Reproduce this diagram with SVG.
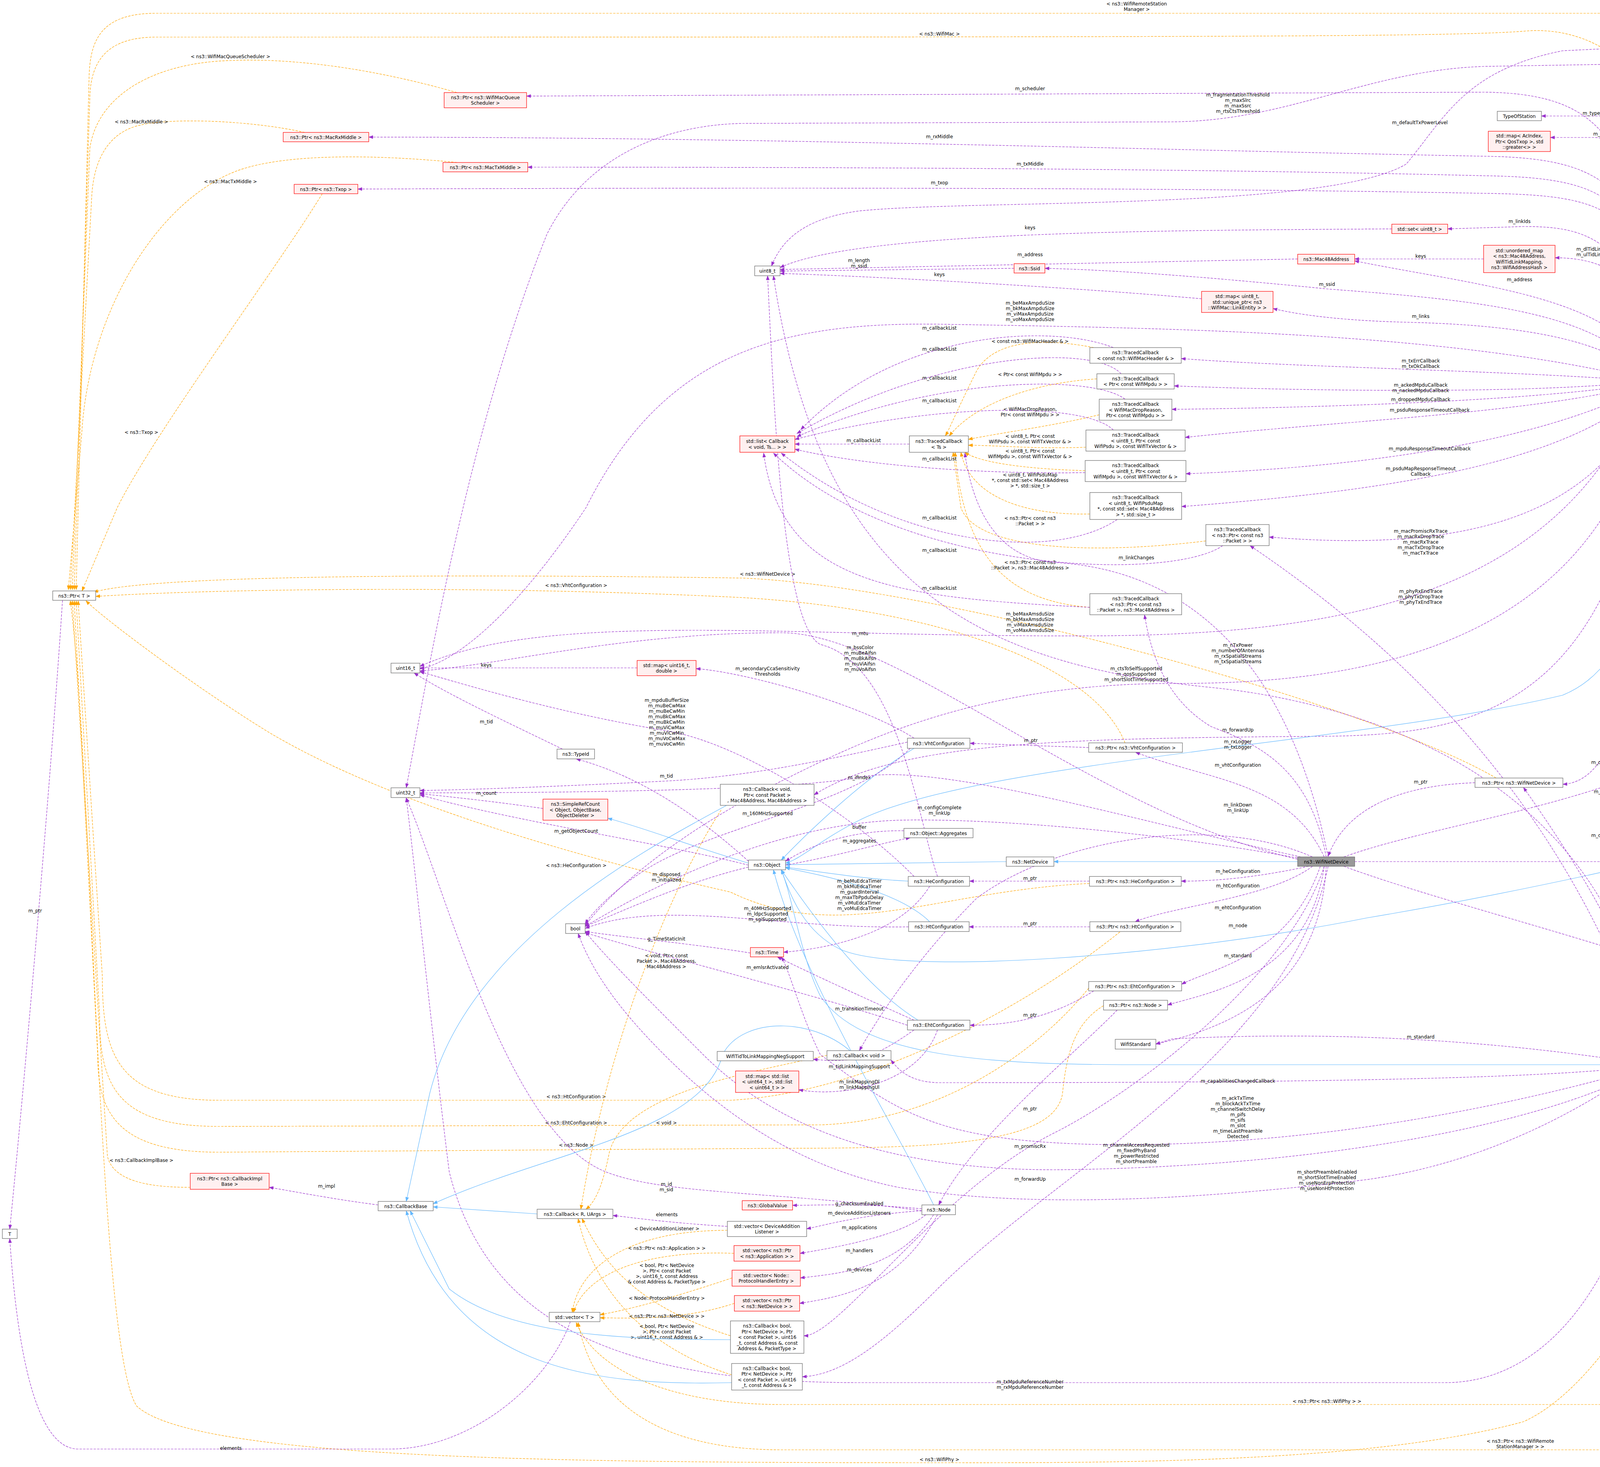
<svg xmlns="http://www.w3.org/2000/svg" width="5608" height="3756" viewBox="0 0 5608 3756">
<defs>
<marker id="ap" markerWidth="12" markerHeight="10" refX="11" refY="4.5" orient="auto" markerUnits="userSpaceOnUse"><path d="M0,0 L12,4.5 L0,9 z" fill="#9A32CD"/></marker>
<marker id="ao" markerWidth="12" markerHeight="10" refX="11" refY="4.5" orient="auto" markerUnits="userSpaceOnUse"><path d="M0,0 L12,4.5 L0,9 z" fill="#FFA500"/></marker>
<marker id="ab" markerWidth="12" markerHeight="10" refX="11" refY="4.5" orient="auto" markerUnits="userSpaceOnUse"><path d="M0,0 L12,4.5 L0,9 z" fill="#63B8FF"/></marker>
</defs>
<style>
text{font-family:"DejaVu Sans","Liberation Sans",sans-serif;font-size:12px;text-anchor:middle;fill:#000}
.n rect{fill:#fff;stroke:#666;stroke-width:1.2}
.r rect{fill:#FFF0F0;stroke:#F00;stroke-width:1.2}
.g rect{fill:#999;stroke:#666;stroke-width:1.2}
.p{fill:none;stroke:#9A32CD;stroke-width:1.2;stroke-dasharray:6,3;marker-end:url(#ap)}
.o{fill:none;stroke:#FFA500;stroke-width:1.2;stroke-dasharray:6,3;marker-end:url(#ao)}
.b{fill:none;stroke:#63B8FF;stroke-width:1.2;marker-end:url(#ab)}
</style>
<rect width="5608" height="3756" fill="#fff"/>
<g id="edges">
<!-- orange to Ptr<T> -->
<path class="o" d="M5116,2037 C5060,1500 4960,200 4900,80 C4870,40 4840,34 4800,34 L400,34 C260,34 230,100 228,200 L195,1510"/>
<text x="2910" y="14">&lt; ns3::WifiRemoteStation</text><text x="2910" y="28">Manager &gt;</text>
<path class="o" d="M4481,1811 C4447,1439 4352,576 4244,276 C4150,100 4000,70 3900,80 C3700,95 3000,95 400,95 C280,95 232,150 230,250 L190,1510"/>
<text x="2405" y="91">&lt; ns3::WifiMac &gt;</text>
<path class="o" d="M1170,237 C900,160 700,150 590,155 C400,160 250,240 230,380 L185,1510"/>
<text x="590" y="149">&lt; ns3::WifiMacQueueScheduler &gt;</text>
<path class="o" d="M780,339 C650,310 450,300 360,320 C270,340 240,420 235,500 L180,1510"/>
<text x="362" y="316">&lt; ns3::MacRxMiddle &gt;</text>
<path class="o" d="M1170,416 C900,390 700,400 600,440 C400,520 230,800 210,1100 L175,1510"/>
<text x="590" y="469">&lt; ns3::MacTxMiddle &gt;</text>
<path class="o" d="M825,496 C700,700 400,1100 300,1300 L210,1513"/>
<text x="362" y="1111">&lt; ns3::Txop &gt;</text>
<path class="o" d="M2880,1902 C2800,1700 2400,1560 1900,1530 C1300,1500 600,1505 245,1527"/>
<text x="1475" y="1503">&lt; ns3::VhtConfiguration &gt;</text>
<path class="o" d="M3830,1992 C3500,1800 2400,1500 1900,1480 C1200,1470 400,1470 240,1516"/>
<text x="1965" y="1474">&lt; ns3::WifiNetDevice &gt;</text>
<path class="o" d="M2789,2262 C2400,2280 2150,2420 1870,2284 C1500,2200 1000,2060 690,1876 C500,1760 260,1580 220,1538"/>
<text x="1475" y="2220">&lt; ns3::HeConfiguration &gt;</text>
<path class="o" d="M2867,2386 C2600,2600 2200,2800 1870,2817 L560,2817 C300,2817 262,2700 262,2500 L200,1538"/>
<text x="1475" y="2812">&lt; ns3::HtConfiguration &gt;</text>
<path class="o" d="M2787,2530 C2650,2700 2400,2870 2100,2880 L560,2884 C300,2884 255,2780 255,2600 L195,1538"/>
<text x="1475" y="2879">&lt; ns3::EhtConfiguration &gt;</text>
<path class="o" d="M2825,2575 C2750,2620 2730,2700 2720,2800 C2700,2930 2400,2940 2000,2940 L560,2950 C300,2950 250,2850 250,2700 L190,1538"/>
<text x="1475" y="2936">&lt; ns3::Node &gt;</text>
<path class="o" d="M487,3040 C400,3040 290,3030 275,2960 L185,1538"/>
<text x="362" y="2975">&lt; ns3::CallbackImplBase &gt;</text>
<path class="o" d="M4480,2739 C4300,3200 4100,3550 3900,3640 C3500,3750 2800,3745 2400,3745 C1500,3745 500,3740 350,3600 C250,3450 240,2000 180,1538"/>
<text x="2405" y="3741">&lt; ns3::WifiPhy &gt;</text>
<!-- orange to vector<T> -->
<path class="o" d="M5464,2226 C5440,2800 5400,3500 5300,3640 C5250,3700 5150,3712 5000,3712 L2000,3712 C1700,3712 1520,3600 1480,3386"/>
<text x="3892" y="3694">&lt; ns3::Ptr&lt; ns3::WifiRemote</text><text x="3892" y="3708">StationManager &gt; &gt;</text>
<path class="o" d="M4813,2746 C4750,3200 4600,3596 4500,3596 L2000,3596 C1700,3596 1520,3500 1475,3386"/>
<text x="3397" y="3592">&lt; ns3::Ptr&lt; ns3::WifiPhy &gt; &gt;</text>
<path class="o" d="M1862,3150 C1600,3150 1480,3250 1465,3360"/>
<text x="1707" y="3150">&lt; DeviceAdditionListener &gt;</text>
<path class="o" d="M1879,3209 C1650,3200 1500,3260 1468,3360"/>
<text x="1707" y="3200">&lt; ns3::Ptr&lt; ns3::Application &gt; &gt;</text>
<path class="o" d="M1874,3272 C1700,3330 1600,3355 1536,3366"/>
<text x="1707" y="3328">&lt; Node::ProtocolHandlerEntry &gt;</text>
<path class="o" d="M1880,3337 C1750,3380 1620,3375 1536,3374"/>
<text x="1707" y="3374">&lt; ns3::Ptr&lt; ns3::NetDevice &gt; &gt;</text>
<!-- orange to Callback<R,UArgs> -->
<path class="o" d="M1846,2074 C1700,2300 1550,2700 1487,3096"/>
<text x="1706" y="2451">&lt; void, Ptr&lt; const</text><text x="1706" y="2465">Packet &gt;, Mac48Address,</text><text x="1706" y="2479">Mac48Address &gt;</text>
<path class="o" d="M2117,2702 C1900,2750 1600,2800 1560,2950 C1540,3050 1520,3080 1500,3096"/>
<text x="1706" y="2879">&lt; void &gt;</text>
<path class="o" d="M1870,3420 C1650,3350 1550,3250 1490,3120"/>
<text x="1707" y="3244">&lt; bool, Ptr&lt; NetDevice</text><text x="1707" y="3258">&gt;, Ptr&lt; const Packet</text><text x="1707" y="3272">&gt;, uint16_t, const Address</text><text x="1707" y="3286">&amp; const Address &amp;, PacketType &gt;</text>
<path class="o" d="M1873,3520 C1650,3450 1520,3300 1480,3120"/>
<text x="1707" y="3400">&lt; bool, Ptr&lt; NetDevice</text><text x="1707" y="3414">&gt;, Ptr&lt; const Packet</text><text x="1707" y="3428">&gt;, uint16_t, const Address &amp; &gt;</text>
<!-- orange to TracedCallback<Ts> -->
<path class="o" d="M2800,890 C2700,870 2550,860 2500,950 C2450,1050 2430,1100 2420,1116"/>
<text x="2637" y="878">&lt; const ns3::WifiMacHeader &amp; &gt;</text>
<path class="o" d="M2808,970 C2650,980 2500,1030 2430,1116"/>
<text x="2637" y="963">&lt; Ptr&lt; const WifiMpdu &gt; &gt;</text>
<path class="o" d="M2814,1062 C2700,1090 2550,1110 2479,1125"/>
<text x="2637" y="1052">&lt; WifiMacDropReason,</text><text x="2637" y="1066">Ptr&lt; const WifiMpdu &gt; &gt;</text>
<path class="o" d="M2780,1145 C2650,1150 2550,1140 2479,1140"/>
<text x="2637" y="1121">&lt; uint8_t, Ptr&lt; const</text><text x="2637" y="1135">WifiPsdu &gt;, const WifiTxVector &amp; &gt;</text>
<path class="o" d="M2778,1205 C2600,1200 2500,1180 2470,1158"/>
<text x="2637" y="1159">&lt; uint8_t, Ptr&lt; const</text><text x="2637" y="1173">WifiMpdu &gt;, const WifiTxVector &amp; &gt;</text>
<path class="o" d="M2790,1316 C2600,1320 2480,1260 2460,1158"/>
<text x="2637" y="1220">&lt; uint8_t, WifiPsduMap</text><text x="2637" y="1234">*, const std::set&lt; Mac48Address</text><text x="2637" y="1248">&gt; *, std::size_t &gt;</text>
<path class="o" d="M3087,1385 C2800,1420 2500,1410 2460,1300 L2440,1158"/>
<text x="2637" y="1331">&lt; ns3::Ptr&lt; const ns3</text><text x="2637" y="1345">::Packet &gt; &gt;</text>
<path class="o" d="M2790,1555 C2600,1540 2470,1450 2445,1158"/>
<text x="2637" y="1444">&lt; ns3::Ptr&lt; const ns3</text><text x="2637" y="1458">::Packet &gt;, ns3::Mac48Address &gt;</text>
<!-- callback lists -->
<path class="p" d="M2328,1137 L2035,1137"/><text x="2211" y="1132">m_callbackList</text>
<path class="p" d="M2850,890 C2700,830 2300,840 2050,1100"/><text x="2405" y="844">m_callbackList</text>
<path class="p" d="M2870,957 C2800,880 2400,900 2040,1110"/><text x="2405" y="898">m_callbackList</text>
<path class="p" d="M2880,1022 C2800,960 2400,960 2040,1118"/><text x="2405" y="972">m_callbackList</text>
<path class="p" d="M2850,1101 C2780,1030 2400,1030 2035,1125"/><text x="2405" y="1030">m_callbackList</text>
<path class="p" d="M2778,1210 C2500,1215 2200,1190 2035,1150"/><text x="2405" y="1179">m_callbackList</text>
<path class="p" d="M2860,1330 C2700,1440 2300,1400 2000,1160"/><text x="2405" y="1330">m_callbackList</text>
<path class="p" d="M3130,1397 C3000,1490 2300,1470 1980,1160"/><text x="2405" y="1413">m_callbackList</text>
<path class="p" d="M2790,1555 C2300,1530 2000,1500 1955,1160"/><text x="2405" y="1510">m_callbackList</text>
<!-- WifiMac -->
<path class="p" d="M4245,968 C4230,500 4200,297 4100,297 L3946,297"/><text x="4102" y="294">m_typeOfStation</text>
<path class="p" d="M4245,968 C4230,500 4180,352 4080,352 L3969,352"/><text x="4102" y="347">m_edca</text>
<path class="p" d="M4240,968 C4200,600 4050,580 3900,580 L3706,586"/><text x="3890" y="571">m_linkIds</text>
<path class="p" d="M4240,968 C4230,750 4150,660 3981,660"/><text x="4100" y="642">m_dlTidLinkMappings</text><text x="4100" y="656">m_ulTidLinkMappings</text>
<path class="p" d="M4230,968 C4150,760 3800,735 3468,668"/><text x="3890" y="720">m_address</text>
<path class="p" d="M4220,968 C4100,800 3800,770 3400,740 C3000,700 2800,690 2675,687"/><text x="3397" y="732">m_ssid</text>
<path class="p" d="M4210,968 C4100,850 3800,830 3600,825 C3400,820 3300,800 3259,790"/><text x="3637" y="814">m_links</text>
<path class="p" d="M4197,975 C3900,950 3300,940 3024,918"/><text x="3637" y="928">m_txErrCallback</text><text x="3637" y="942">m_txOkCallback</text>
<path class="p" d="M4197,978 C3900,1010 3300,1000 3006,988"/><text x="3637" y="990">m_ackedMpduCallback</text><text x="3637" y="1004">m_nackedMpduCallback</text>
<path class="p" d="M4197,983 C3900,1030 3300,1045 3000,1048"/><text x="3637" y="1027">m_droppedMpduCallback</text>
<path class="p" d="M4197,988 C3900,1060 3400,1080 3034,1120"/><text x="3660" y="1054">m_psduResponseTimeoutCallback</text>
<path class="p" d="M4210,992 C3900,1150 3400,1200 3036,1213"/><text x="3660" y="1153">m_mpduResponseTimeoutCallback</text>
<path class="p" d="M4220,992 C4000,1200 3500,1260 3025,1297"/><text x="3637" y="1204">m_psduMapResponseTimeout</text><text x="3637" y="1218">Callback</text>
<path class="p" d="M4230,992 C4100,1300 3800,1420 3249,1375"/><text x="3637" y="1364">m_macPromiscRxTrace</text><text x="3637" y="1378">m_macRxDropTrace</text><text x="3637" y="1392">m_macRxTrace</text><text x="3637" y="1406">m_macTxDropTrace</text><text x="3637" y="1420">m_macTxTrace</text>
<path class="p" d="M4240,968 C4200,400 4150,240 3800,236 L1348,246"/><text x="2637" y="231">m_scheduler</text>
<path class="p" d="M4240,968 C4230,500 4150,405 3800,400 C3000,385 2000,352 944,351"/><text x="2405" y="354">m_rxMiddle</text>
<path class="p" d="M4240,968 C4230,520 4150,455 3800,450 C3000,430 2000,428 1351,428"/><text x="2637" y="424">m_txMiddle</text>
<path class="p" d="M4240,968 C4230,540 4150,500 3800,495 C3000,480 2000,480 916,484"/><text x="2405" y="472">m_txop</text>
<path class="p" d="M4197,970 C3700,850 3000,840 2400,830 C2000,825 1700,900 1500,1300 C1300,1600 1150,1700 1075,1712"/><text x="2637" y="780">m_beMaxAmpduSize</text><text x="2637" y="794">m_bkMaxAmpduSize</text><text x="2637" y="808">m_viMaxAmpduSize</text><text x="2637" y="822">m_voMaxAmpduSize</text>
<path class="p" d="M4210,992 C4000,1500 3500,1625 2800,1628 C2000,1632 1400,1560 1075,1706"/><text x="2637" y="1576">m_beMaxAmsduSize</text><text x="2637" y="1590">m_bkMaxAmsduSize</text><text x="2637" y="1604">m_viMaxAmsduSize</text><text x="2637" y="1618">m_voMaxAmsduSize</text>
<path class="p" d="M4230,992 C4100,1700 3400,1750 3000,1750 C2500,1750 2200,1900 2000,2000 C1700,2150 1550,2300 1498,2370"/><text x="2909" y="1716">m_ctsToSelfSupported</text><text x="2909" y="1730">m_qosSupported</text><text x="2909" y="1744">m_shortSlotTimeSupported</text>
<path class="p" d="M4240,992 C4150,1800 3800,1880 3400,1885 C2700,1890 2300,1900 2084,2035"/><text x="3169" y="1873">m_forwardUp</text>
<path class="b" d="M4250,992 C4240,1400 4200,1700 4000,1780 C3500,1900 2500,1950 2200,2100 C2100,2150 2050,2200 2011,2210"/>
<path class="p" d="M4235,992 C4220,1700 4150,2000 4001,2008"/><text x="4102" y="1956">m_device</text>
<!-- WifiRemoteStationManager -->
<path class="p" d="M4790,2045 C4700,1950 4600,1870 4545,1836"/><text x="4639" y="1900">m_wifiMac</text>
<path class="p" d="M4810,2069 C4750,2300 4650,2600 4530,2713"/><text x="4639" y="2615">m_wifiPhy</text>
<path class="b" d="M4760,2069 C4300,2200 3800,2300 3500,2350 C3000,2450 2300,2500 2150,2430 C2050,2380 2020,2280 2000,2227"/>
<path class="p" d="M4820,2045 C4790,1500 4710,300 4610,200 C4560,160 4500,160 4400,160 L3800,170 C3500,180 3300,310 3000,312 L1900,316 C1700,320 1500,400 1400,600 C1200,1100 1100,1700 1040,2017"/><text x="3169" y="247">m_fragmentationThreshold</text><text x="3169" y="261">m_maxSlrc</text><text x="3169" y="275">m_maxSsrc</text><text x="3169" y="289">m_rtsCtsThreshold</text>
<path class="p" d="M4800,2045 C4770,1500 4680,300 4580,140 C4500,110 4300,115 4000,130 C3750,180 3700,300 3600,420 C3400,540 2500,510 2200,540 C2050,560 2000,620 1975,681"/><text x="3635" y="318">m_defaultTxPowerLevel</text>
<path class="p" d="M4780,2069 C4500,2600 4000,2950 3500,3020 C3000,3080 2600,3090 2300,3040 C2000,2980 1800,2800 1700,2700 C1600,2600 1520,2500 1480,2390"/><text x="3397" y="3005">m_shortPreambleEnabled</text><text x="3397" y="3019">m_shortSlotTimeEnabled</text><text x="3397" y="3033">m_useNonErpProtection</text><text x="3397" y="3047">m_useNonHtProtection</text>
<path class="p" d="M5020,2056 L4929,2056"/><text x="4979" y="2053">m_ptr</text>
<path class="p" d="M5420,2187 C5350,2140 5250,2100 5180,2076"/><text x="5272" y="2104">elements</text>
<path class="p" d="M4480,1811 C4420,1600 4330,1300 4258,992"/><text x="4348" y="1247">m_ptr</text>
<!-- WifiNetDevice -->
<path class="p" d="M3440,2194 C3700,2100 4200,2050 4465,1836"/><text x="4102" y="2031">m_mac</text>
<path class="p" d="M3776,2004 C3600,2010 3450,2060 3400,2192"/><text x="3637" y="2006">m_ptr</text>
<path class="p" d="M3468,2206 L5327,2206"/><text x="4486" y="2203">m_stationManagers</text>
<path class="p" d="M3440,2218 C3800,2350 4500,2500 4800,2706"/><text x="4250" y="2440">m_phys</text>
<path class="b" d="M3322,2206 L2698,2206"/>
<path class="p" d="M3390,2194 C3300,2000 3100,2000 2907,1926"/><text x="3169" y="1963">m_vhtConfiguration</text>
<path class="p" d="M3350,2218 C3200,2250 3100,2256 3024,2256"/><text x="3169" y="2235">m_heConfiguration</text>
<path class="p" d="M3360,2218 C3250,2300 3000,2320 2906,2360"/><text x="3169" y="2272">m_htConfiguration</text>
<path class="p" d="M3380,2218 C3300,2450 3100,2480 3025,2520"/><text x="3169" y="2328">m_ehtConfiguration</text>
<path class="p" d="M3390,2218 C3350,2500 3100,2540 2989,2573"/><text x="3169" y="2374">m_node</text>
<path class="p" d="M3395,2218 C3380,2500 3200,2620 2959,2673"/><text x="3169" y="2451">m_standard</text>
<path class="p" d="M3395,2194 C3350,1950 3200,1900 3100,1860 C3000,1800 2950,1700 2930,1574"/><text x="3169" y="1903">m_rxLogger</text><text x="3169" y="1917">m_txLogger</text>
<path class="p" d="M3360,2194 C3100,2080 2700,2150 2500,2300 C2350,2450 2250,2600 2200,2690"/><text x="3169" y="2065">m_linkDown</text><text x="3169" y="2079">m_linkUp</text>
<path class="p" d="M3330,2198 C2900,2120 2500,2095 2300,2100 C2000,2110 1700,2250 1498,2372"/><text x="2405" y="2072">m_configComplete</text><text x="2405" y="2086">m_linkUp</text>
<path class="p" d="M3322,2200 C2800,2080 2300,1620 2000,1620 C1600,1620 1300,1700 1075,1718"/><text x="2202" y="1626">m_mtu</text>
<path class="p" d="M3330,2194 C2900,2100 2400,1950 2200,1990 C2000,2030 1200,2030 1075,2030"/><text x="2200" y="1995">m_ifIndex</text>
<path class="p" d="M3390,2218 C3300,2500 2900,2800 2700,2900 C2400,3050 2150,3420 2058,3420"/><text x="2637" y="2939">m_promiscRx</text>
<path class="p" d="M3400,2218 C3300,2700 2700,3000 2400,3300 C2250,3450 2150,3520 2054,3525"/><text x="2637" y="3023">m_forwardUp</text>
<path class="p" d="M3400,2194 C3300,1700 3050,1460 2700,1440 C2550,1430 2490,1300 2470,1160"/><text x="2909" y="1432">m_linkChanges</text>
<path class="p" d="M2860,2586 C2750,2700 2500,2900 2403,3085"/><text x="2637" y="2843">m_ptr</text>
<!-- WifiPhy -->
<path class="p" d="M4393,2726 L4300,2726"/><text x="4345" y="2723">m_ptr</text>
<path class="p" d="M4736,2726 L4574,2726"/><text x="4639" y="2723">elements</text>
<path class="p" d="M4240,2713 C4200,2500 4100,2300 3900,2016"/><text x="4102" y="2143">m_device</text>
<path class="p" d="M4197,2722 C3800,2660 3400,2640 3000,2660 L2959,2673"/><text x="3637" y="2659">m_standard</text>
<path class="p" d="M4200,2730 C3900,2770 3000,2772 2400,2772 C2330,2770 2300,2740 2281,2714"/><text x="3169" y="2772">m_capabilitiesChangedCallback</text>
<path class="p" d="M4205,2735 C3800,2850 3300,2940 2800,2930 C2400,2920 2300,2850 2100,2700 C2050,2600 2020,2480 2000,2450"/><text x="3169" y="2816">m_ackTxTime</text><text x="3169" y="2830">m_blockAckTxTime</text><text x="3169" y="2844">m_channelSwitchDelay</text><text x="3169" y="2858">m_pifs</text><text x="3169" y="2872">m_sifs</text><text x="3169" y="2886">m_slot</text><text x="3169" y="2900">m_timeLastPreamble</text><text x="3169" y="2914">Detected</text>
<path class="p" d="M4210,2739 C3900,2900 3300,2990 2700,2995 C2300,2995 2000,2900 1800,2700 C1650,2550 1550,2450 1498,2385"/><text x="2909" y="2936">m_channelAccessRequested</text><text x="2909" y="2950">m_fixedPhyBand</text><text x="2909" y="2964">m_powerRestricted</text><text x="2909" y="2978">m_shortPreamble</text>
<path class="p" d="M4248,2739 C4200,3200 4000,3540 3700,3540 L2200,3540 C1600,3540 1250,3400 1150,3000 C1100,2600 1060,2200 1040,2043"/><text x="2637" y="3542">m_txMpduReferenceNumber</text><text x="2637" y="3556">m_rxMpduReferenceNumber</text>
<path class="b" d="M4197,2726 L2900,2726 C2500,2726 2200,2700 2100,2550 C2050,2450 2030,2300 2000,2227"/>
<path class="p" d="M4230,2713 C4150,2000 3500,1800 3100,1760 C2500,1700 2100,1500 1980,706"/><text x="3169" y="1656">m_nTxPower</text><text x="3169" y="1670">m_numberOfAntennas</text><text x="3169" y="1684">m_rxSpatialStreams</text><text x="3169" y="1698">m_txSpatialStreams</text>
<path class="p" d="M4225,2713 C4000,2000 3500,1600 3200,1397"/><text x="3637" y="1518">m_phyRxEndTrace</text><text x="3637" y="1532">m_phyTxDropTrace</text><text x="3637" y="1546">m_phyTxEndTrace</text>
<!-- Configurations / Object -->
<path class="p" d="M2787,1914 L2483,1903"/><text x="2639" y="1900">m_ptr</text>
<path class="p" d="M2789,2256 L2482,2256"/><text x="2637" y="2253">m_ptr</text>
<path class="p" d="M2790,2373 L2481,2373"/><text x="2637" y="2369">m_ptr</text>
<path class="p" d="M2800,2537 C2700,2600 2600,2625 2483,2625"/><text x="2637" y="2603">m_ptr</text>
<path class="b" d="M2340,1916 C2200,2000 2050,2150 2000,2202"/>
<path class="b" d="M2325,2256 C2200,2250 2050,2225 2011,2220"/>
<path class="b" d="M2380,2360 C2300,2280 2100,2240 2011,2222"/>
<path class="b" d="M2350,2612 C2200,2520 2050,2300 2000,2227"/>
<path class="b" d="M2390,3085 C2300,2900 2050,2500 1980,2227"/>
<path class="b" d="M2576,2206 C2300,2210 2100,2213 2011,2214"/>
<path class="p" d="M2314,2127 C2150,2125 2050,2180 2011,2205"/><text x="2200" y="2122">buffer</text>
<path class="p" d="M2011,2215 C2150,2190 2250,2160 2330,2145"/><text x="2200" y="2157">m_aggregates</text>
<path class="p" d="M1916,2205 C1800,2100 1650,1990 1475,1943"/>
<path class="p" d="M1440,1918 C1300,1850 1150,1780 1060,1723"/><text x="1245" y="1852">m_tid</text>
<path class="p" d="M2323,1900 C2100,1950 1900,1990 1700,2000 C1400,2015 1200,2022 1075,2024"/><text x="1706" y="1991">m_tid</text>
<path class="p" d="M1916,2215 C1700,2160 1300,2100 1075,2035"/><text x="1475" y="2132">m_getObjectCount</text>
<path class="p" d="M1916,2220 C1750,2260 1600,2330 1498,2372"/><text x="1706" y="2243">m_disposed</text><text x="1706" y="2257">m_initialized</text>
<path class="b" d="M1916,2210 C1750,2160 1650,2120 1556,2095"/>
<path class="p" d="M1390,2070 C1250,2050 1150,2040 1075,2032"/><text x="1245" y="2035">m_count</text>
<path class="p" d="M1921,2440 C1800,2420 1600,2400 1498,2385"/><text x="1706" y="2408">g_TimeStaticInit</text>
<path class="p" d="M2360,3100 C2000,3050 1700,3060 1550,3000 C1300,2900 1150,2300 1040,2043"/><text x="1706" y="3036">m_id</text><text x="1706" y="3050">m_sid</text>
<path class="p" d="M2330,1916 C2200,2050 1900,2100 1700,2200 C1600,2250 1520,2330 1498,2365"/><text x="1965" y="2087">m_160MHzSupported</text>
<path class="p" d="M2326,2373 C2000,2380 1700,2300 1498,2377"/><text x="1965" y="2330">m_40MHzSupported</text><text x="1965" y="2344">m_ldpcSupported</text><text x="1965" y="2358">m_sgiSupported</text>
<path class="p" d="M2380,2269 C2300,2400 2100,2430 2006,2438"/><text x="2200" y="2260">m_beMuEdcaTimer</text><text x="2200" y="2274">m_bkMuEdcaTimer</text><text x="2200" y="2288">m_guardInterval</text><text x="2200" y="2302">m_maxTbPpduDelay</text><text x="2200" y="2316">m_viMuEdcaTimer</text><text x="2200" y="2330">m_voMuEdcaTimer</text>
<path class="p" d="M2400,2244 C2350,2100 2300,1700 2100,1650 C2000,1600 1980,1000 1965,706"/><text x="2202" y="1662">m_bssColor</text><text x="2202" y="1676">m_muBeAifsn</text><text x="2202" y="1690">m_muBkAifsn</text><text x="2202" y="1704">m_muViAifsn</text><text x="2202" y="1718">m_muVoAifsn</text>
<path class="p" d="M2340,2244 C2200,2100 1900,1900 1700,1870 C1400,1820 1150,1740 1075,1720"/><text x="1707" y="1797">m_mpduBufferSize</text><text x="1707" y="1811">m_muBeCwMax</text><text x="1707" y="1825">m_muBeCwMin</text><text x="1707" y="1839">m_muBkCwMax</text><text x="1707" y="1853">m_muBkCwMin</text><text x="1707" y="1867">m_muViCwMax</text><text x="1707" y="1881">m_muViCwMin</text><text x="1707" y="1895">m_muVoCwMax</text><text x="1707" y="1909">m_muVoCwMin</text>
<path class="p" d="M2340,1890 C2200,1800 1900,1720 1782,1712"/><text x="1965" y="1716">m_secondaryCcaSensitivity</text><text x="1965" y="1730">Thresholds</text>
<path class="p" d="M1631,1710 L1075,1710"/><text x="1245" y="1707">keys</text>
<path class="p" d="M2323,2625 C2100,2550 1700,2450 1498,2388"/><text x="1965" y="2481">m_emlsrActivated</text>
<path class="p" d="M2340,2612 C2200,2550 2050,2480 1990,2450"/><text x="2200" y="2587">m_transitionTimeout</text>
<path class="p" d="M2340,2637 C2250,2700 2200,2725 2082,2712"/><text x="2200" y="2735">m_tidLinkMappingSupport</text>
<path class="p" d="M2400,2637 C2350,2780 2150,2810 2045,2790"/><text x="2200" y="2774">m_linkMappingDl</text><text x="2200" y="2788">m_linkMappingUl</text>
<!-- callbacks -->
<path class="p" d="M968,3085 C850,3070 750,3050 689,3040"/><text x="836" y="3041">m_impl</text>
<path class="b" d="M1375,3108 L1109,3090"/>
<path class="b" d="M1860,2062 C1700,2150 1200,2400 1100,2800 L1040,3076"/>
<path class="b" d="M2200,2714 C2100,2600 1900,2600 1850,2700 C1800,2900 1400,2950 1109,3082"/>
<path class="b" d="M1870,3430 C1600,3430 1300,3420 1150,3300 L1050,3100"/>
<path class="b" d="M1873,3540 C1500,3550 1150,3500 1040,3100"/>
<path class="p" d="M1862,3140 C1700,3130 1600,3115 1569,3112"/><text x="1707" y="3114">elements</text>
<path class="p" d="M2360,3095 C2200,3080 2100,3086 2029,3086"/><text x="2200" y="3086">g_checksumEnabled</text>
<path class="p" d="M2360,3100 C2200,3110 2100,3140 2065,3146"/><text x="2200" y="3110">m_deviceAdditionListeners</text>
<path class="p" d="M2370,3110 C2300,3170 2100,3200 2048,3209"/><text x="2200" y="3147">m_applications</text>
<path class="p" d="M2390,3110 C2300,3250 2150,3260 2049,3272"/><text x="2200" y="3206">m_handlers</text>
<path class="p" d="M2400,3110 C2300,3300 2150,3320 2047,3337"/><text x="2200" y="3255">m_devices</text>
<path class="p" d="M160,1537 C130,2000 60,2800 25,3147"/><text x="90" y="2336">m_ptr</text>
<path class="p" d="M1460,3384 C1400,3550 1200,3710 1000,3710 L200,3710 C80,3710 40,3400 25,3171"/><text x="591" y="3712">elements</text>
<!-- uint8 keys -->
<path class="p" d="M3563,586 C3000,590 2200,590 1997,685"/><text x="2637" y="587">keys</text>
<path class="p" d="M3322,663 L1997,690"/><text x="2637" y="656">m_address</text>
<path class="p" d="M2596,687 L1997,694"/><text x="2199" y="671">m_length</text><text x="2199" y="685">m_ssid</text>
<path class="p" d="M3076,765 C2800,740 2300,710 1997,700"/><text x="2405" y="707">keys</text>
<path class="p" d="M3798,663 L3468,663"/><text x="3637" y="660">keys</text>
</g>
<g id="n_ptrT" class="n"><rect x="135" y="1513" width="110" height="24"/><text x="190" y="1529.5">ns3::Ptr&lt; T &gt;</text></g>
<g id="n_ptrSched" class="r"><rect x="1137" y="237" width="211" height="39"/><text x="1242.5" y="253.7">ns3::Ptr&lt; ns3::WifiMacQueue</text><text x="1242.5" y="268.2">Scheduler &gt;</text></g>
<g id="n_ptrRx" class="r"><rect x="725" y="339" width="219" height="24"/><text x="834.5" y="355.5">ns3::Ptr&lt; ns3::MacRxMiddle &gt;</text></g>
<g id="n_ptrTx" class="r"><rect x="1134" y="416" width="217" height="24"/><text x="1242.5" y="432.5">ns3::Ptr&lt; ns3::MacTxMiddle &gt;</text></g>
<g id="n_ptrTxop" class="r"><rect x="753" y="472" width="163" height="24"/><text x="834.5" y="488.5">ns3::Ptr&lt; ns3::Txop &gt;</text></g>
<g id="n_uint16" class="n"><rect x="1001" y="1698" width="74" height="25"/><text x="1038" y="1715">uint16_t</text></g>
<g id="n_mapU16" class="r"><rect x="1631" y="1691" width="151" height="39"/><text x="1706.5" y="1707.7">std::map&lt; uint16_t,</text><text x="1706.5" y="1722.2">double &gt;</text></g>
<g id="n_T" class="n"><rect x="6" y="3147" width="38" height="24"/><text x="25" y="3163.5">T</text></g>
<g id="n_uint32" class="n"><rect x="1001" y="2017" width="74" height="25"/><text x="1038" y="2034">uint32_t</text></g>
<g id="n_typeId" class="n"><rect x="1426" y="1918" width="96" height="25"/><text x="1474" y="1935">ns3::TypeId</text></g>
<g id="n_simpleRef" class="r"><rect x="1390" y="2046" width="166" height="54"/><text x="1473" y="2063">ns3::SimpleRefCount</text><text x="1473" y="2077.5">&lt; Object, ObjectBase,</text><text x="1473" y="2092">ObjectDeleter &gt;</text></g>
<g id="n_bool" class="n"><rect x="1448" y="2365" width="50" height="25"/><text x="1473" y="2382">bool</text></g>
<g id="n_ptrCbImpl" class="r"><rect x="487" y="3004" width="202" height="41"/><text x="588" y="3021.7">ns3::Ptr&lt; ns3::CallbackImpl</text><text x="588" y="3036.2">Base &gt;</text></g>
<g id="n_cbBase" class="n"><rect x="968" y="3076" width="141" height="24"/><text x="1038.5" y="3092.5">ns3::CallbackBase</text></g>
<g id="n_cbRU" class="n"><rect x="1375" y="3096" width="194" height="24"/><text x="1472" y="3112.5">ns3::Callback&lt; R, UArgs &gt;</text></g>
<g id="n_vecT" class="n"><rect x="1406" y="3360" width="130" height="24"/><text x="1471" y="3376.5">std::vector&lt; T &gt;</text></g>
<g id="n_uint8" class="n"><rect x="1932" y="681" width="65" height="25"/><text x="1964.5" y="698">uint8_t</text></g>
<g id="n_ssid" class="r"><rect x="2596" y="675" width="79" height="24"/><text x="2635.5" y="691.5">ns3::Ssid</text></g>
<g id="n_mac48" class="r"><rect x="3322" y="651" width="146" height="25"/><text x="3395" y="668">ns3::Mac48Address</text></g>
<g id="n_setU8" class="r"><rect x="3563" y="574" width="143" height="24"/><text x="3634.5" y="590.5">std::set&lt; uint8_t &gt;</text></g>
<g id="n_mapLinks" class="r"><rect x="3076" y="746" width="183" height="54"/><text x="3167.5" y="763">std::map&lt; uint8_t,</text><text x="3167.5" y="777.5">std::unique_ptr&lt; ns3</text><text x="3167.5" y="792">::WifiMac::LinkEntity &gt; &gt;</text></g>
<g id="n_listCb" class="r"><rect x="1894" y="1116" width="141" height="42"/><text x="1964.5" y="1134.2">std::list&lt; Callback</text><text x="1964.5" y="1148.7">&lt; void, Ts... &gt; &gt;</text></g>
<g id="n_tcTs" class="n"><rect x="2328" y="1116" width="151" height="42"/><text x="2403.5" y="1134.2">ns3::TracedCallback</text><text x="2403.5" y="1148.7">&lt; Ts &gt;</text></g>
<g id="n_tcHdr" class="n"><rect x="2790" y="890" width="234" height="40"/><text x="2907" y="907.2">ns3::TracedCallback</text><text x="2907" y="921.7">&lt; const ns3::WifiMacHeader &amp; &gt;</text></g>
<g id="n_tcMpdu" class="n"><rect x="2808" y="957" width="198" height="39"/><text x="2907" y="973.7">ns3::TracedCallback</text><text x="2907" y="988.2">&lt; Ptr&lt; const WifiMpdu &gt; &gt;</text></g>
<g id="n_tcDrop" class="n"><rect x="2814" y="1022" width="186" height="54"/><text x="2907" y="1039">ns3::TracedCallback</text><text x="2907" y="1053.5">&lt; WifiMacDropReason,</text><text x="2907" y="1068">Ptr&lt; const WifiMpdu &gt; &gt;</text></g>
<g id="n_tcPsdu" class="n"><rect x="2780" y="1101" width="254" height="54"/><text x="2907" y="1118">ns3::TracedCallback</text><text x="2907" y="1132.5">&lt; uint8_t, Ptr&lt; const</text><text x="2907" y="1147">WifiPsdu &gt;, const WifiTxVector &amp; &gt;</text></g>
<g id="n_tcMpduTx" class="n"><rect x="2778" y="1179" width="258" height="54"/><text x="2907" y="1196">ns3::TracedCallback</text><text x="2907" y="1210.5">&lt; uint8_t, Ptr&lt; const</text><text x="2907" y="1225">WifiMpdu &gt;, const WifiTxVector &amp; &gt;</text></g>
<g id="n_tcPsduMap" class="n"><rect x="2790" y="1261" width="235" height="69"/><text x="2907.5" y="1278.2">ns3::TracedCallback</text><text x="2907.5" y="1292.7">&lt; uint8_t, WifiPsduMap</text><text x="2907.5" y="1307.2">*, const std::set&lt; Mac48Address</text><text x="2907.5" y="1321.7">&gt; *, std::size_t &gt;</text></g>
<g id="n_tcPkt" class="n"><rect x="3087" y="1343" width="162" height="54"/><text x="3168" y="1360">ns3::TracedCallback</text><text x="3168" y="1374.5">&lt; ns3::Ptr&lt; const ns3</text><text x="3168" y="1389">::Packet &gt; &gt;</text></g>
<g id="n_tcPktMac" class="n"><rect x="2790" y="1520" width="235" height="54"/><text x="2907.5" y="1537">ns3::TracedCallback</text><text x="2907.5" y="1551.5">&lt; ns3::Ptr&lt; const ns3</text><text x="2907.5" y="1566">::Packet &gt;, ns3::Mac48Address &gt;</text></g>
<g id="n_typeOfStation" class="n"><rect x="3833" y="285" width="113" height="24"/><text x="3889.5" y="301.5">TypeOfStation</text></g>
<g id="n_mapEdca" class="r"><rect x="3810" y="336" width="159" height="52"/><text x="3889.5" y="352">std::map&lt; AcIndex,</text><text x="3889.5" y="366.5">Ptr&lt; QosTxop &gt;, std</text><text x="3889.5" y="381">::greater&lt;&gt; &gt;</text></g>
<g id="n_unorderedMap" class="r"><rect x="3798" y="628" width="183" height="70"/><text x="3889.5" y="645.7">std::unordered_map</text><text x="3889.5" y="660.2">&lt; ns3::Mac48Address,</text><text x="3889.5" y="674.7">WifiTidLinkMapping,</text><text x="3889.5" y="689.2">ns3::WifiAddressHash &gt;</text></g>
<g id="n_wifiMac" class="n"><rect x="4197" y="968" width="104" height="24"/><text x="4249" y="984.5">ns3::WifiMac</text></g>
<g id="n_ptrWifiMac" class="n"><rect x="4392" y="1811" width="182" height="25"/><text x="4483" y="1828">ns3::Ptr&lt; ns3::WifiMac &gt;</text></g>
<g id="n_vhtConf" class="n"><rect x="2323" y="1890" width="160" height="26"/><text x="2403" y="1907.5">ns3::VhtConfiguration</text></g>
<g id="n_ptrVht" class="n"><rect x="2787" y="1902" width="240" height="24"/><text x="2907" y="1918.5">ns3::Ptr&lt; ns3::VhtConfiguration &gt;</text></g>
<g id="n_cbVoidPkt" class="n"><rect x="1844" y="2008" width="240" height="54"/><text x="1964" y="2025">ns3::Callback&lt; void,</text><text x="1964" y="2039.5">Ptr&lt; const Packet &gt;</text><text x="1964" y="2054">, Mac48Address, Mac48Address &gt;</text></g>
<g id="n_aggregates" class="n"><rect x="2314" y="2121" width="177" height="24"/><text x="2402.5" y="2137.5">ns3::Object::Aggregates</text></g>
<g id="n_object" class="n"><rect x="1916" y="2202" width="95" height="25"/><text x="1963.5" y="2219">ns3::Object</text></g>
<g id="n_netDevice" class="n"><rect x="2576" y="2194" width="122" height="24"/><text x="2637" y="2210.5">ns3::NetDevice</text></g>
<g id="n_wifiNetDevice" class="g"><rect x="3322" y="2194" width="146" height="24"/><text x="3395" y="2210.5">ns3::WifiNetDevice</text></g>
<g id="n_heConf" class="n"><rect x="2325" y="2244" width="157" height="25"/><text x="2403.5" y="2261">ns3::HeConfiguration</text></g>
<g id="n_ptrHe" class="n"><rect x="2789" y="2244" width="235" height="25"/><text x="2906.5" y="2261">ns3::Ptr&lt; ns3::HeConfiguration &gt;</text></g>
<g id="n_htConf" class="n"><rect x="2326" y="2360" width="155" height="25"/><text x="2403.5" y="2377">ns3::HtConfiguration</text></g>
<g id="n_ptrHt" class="n"><rect x="2790" y="2360" width="233" height="25"/><text x="2906.5" y="2377">ns3::Ptr&lt; ns3::HtConfiguration &gt;</text></g>
<g id="n_time" class="r"><rect x="1921" y="2426" width="85" height="24"/><text x="1963.5" y="2442.5">ns3::Time</text></g>
<g id="n_ptrEht" class="n"><rect x="2787" y="2513" width="238" height="24"/><text x="2906" y="2529.5">ns3::Ptr&lt; ns3::EhtConfiguration &gt;</text></g>
<g id="n_ptrNode" class="n"><rect x="2825" y="2561" width="164" height="25"/><text x="2907" y="2578">ns3::Ptr&lt; ns3::Node &gt;</text></g>
<g id="n_ehtConf" class="n"><rect x="2323" y="2612" width="160" height="25"/><text x="2403" y="2629">ns3::EhtConfiguration</text></g>
<g id="n_wifiStandard" class="n"><rect x="2855" y="2661" width="104" height="25"/><text x="2907" y="2678">WifiStandard</text></g>
<g id="n_tidNeg" class="n"><rect x="1836" y="2692" width="246" height="24"/><text x="1959" y="2708.5">WifiTidToLinkMappingNegSupport</text></g>
<g id="n_cbVoid" class="n"><rect x="2117" y="2690" width="164" height="24"/><text x="2199" y="2706.5">ns3::Callback&lt; void &gt;</text></g>
<g id="n_mapList" class="r"><rect x="1883" y="2742" width="162" height="55"/><text x="1964" y="2759.5">std::map&lt; std::list</text><text x="1964" y="2774">&lt; uint64_t &gt;, std::list</text><text x="1964" y="2788.5">&lt; uint64_t &gt; &gt;</text></g>
<g id="n_globalValue" class="r"><rect x="1900" y="3074" width="129" height="24"/><text x="1964.5" y="3090.5">ns3::GlobalValue</text></g>
<g id="n_node" class="n"><rect x="2360" y="3085" width="86" height="25"/><text x="2403" y="3102">ns3::Node</text></g>
<g id="n_vecDAL" class="n"><rect x="1862" y="3127" width="203" height="39"/><text x="1963.5" y="3143.7">std::vector&lt; DeviceAddition</text><text x="1963.5" y="3158.2">Listener &gt;</text></g>
<g id="n_vecApp" class="r"><rect x="1879" y="3189" width="169" height="40"/><text x="1963.5" y="3206.2">std::vector&lt; ns3::Ptr</text><text x="1963.5" y="3220.7">&lt; ns3::Application &gt; &gt;</text></g>
<g id="n_vecPHE" class="r"><rect x="1874" y="3252" width="175" height="41"/><text x="1961.5" y="3269.7">std::vector&lt; Node::</text><text x="1961.5" y="3284.2">ProtocolHandlerEntry &gt;</text></g>
<g id="n_vecND" class="r"><rect x="1880" y="3317" width="167" height="40"/><text x="1963.5" y="3334.2">std::vector&lt; ns3::Ptr</text><text x="1963.5" y="3348.7">&lt; ns3::NetDevice &gt; &gt;</text></g>
<g id="n_cbBool5" class="n"><rect x="1870" y="3382" width="188" height="83"/><text x="1964" y="3399">ns3::Callback&lt; bool,</text><text x="1964" y="3413.5">Ptr&lt; NetDevice &gt;, Ptr</text><text x="1964" y="3428">&lt; const Packet &gt;, uint16</text><text x="1964" y="3442.5">_t, const Address &amp;, const</text><text x="1964" y="3457">Address &amp;, PacketType &gt;</text></g>
<g id="n_cbBool4" class="n"><rect x="1873" y="3491" width="181" height="68"/><text x="1963.5" y="3507.7">ns3::Callback&lt; bool,</text><text x="1963.5" y="3522.2">Ptr&lt; NetDevice &gt;, Ptr</text><text x="1963.5" y="3536.7">&lt; const Packet &gt;, uint16</text><text x="1963.5" y="3551.2">_t, const Address &amp; &gt;</text></g>
<g id="n_ptrWND" class="n"><rect x="3776" y="1992" width="225" height="24"/><text x="3888.5" y="2008.5">ns3::Ptr&lt; ns3::WifiNetDevice &gt;</text></g>
<g id="n_wrsm" class="r"><rect x="4699" y="2045" width="230" height="24"/><text x="4814" y="2061.5">ns3::WifiRemoteStationManager</text></g>
<g id="n_ptrWrsm" class="n"><rect x="5020" y="2037" width="192" height="39"/><text x="5116" y="2053.7">ns3::Ptr&lt; ns3::WifiRemote</text><text x="5116" y="2068.2">StationManager &gt;</text></g>
<g id="n_vecWrsm" class="n"><rect x="5327" y="2187" width="275" height="39"/><text x="5464.5" y="2203.7">std::vector&lt; ns3::Ptr</text><text x="5464.5" y="2218.2">&lt; ns3::WifiRemoteStationManager &gt; &gt;</text></g>
<g id="n_wifiPhy" class="r"><rect x="4197" y="2713" width="103" height="26"/><text x="4248.5" y="2730.5">ns3::WifiPhy</text></g>
<g id="n_ptrPhy" class="n"><rect x="4393" y="2713" width="181" height="26"/><text x="4483.5" y="2730.5">ns3::Ptr&lt; ns3::WifiPhy &gt;</text></g>
<g id="n_vecPhy" class="n"><rect x="4736" y="2706" width="155" height="40"/><text x="4813.5" y="2723.2">std::vector&lt; ns3::Ptr</text><text x="4813.5" y="2737.7">&lt; ns3::WifiPhy &gt; &gt;</text></g>
</svg>
